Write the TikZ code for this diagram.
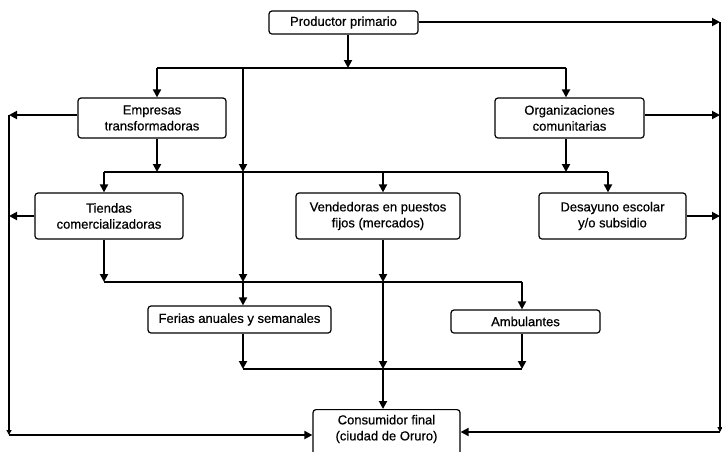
\documentclass[tikz,border=0pt]{standalone}
\usepackage{fontspec}
\setmainfont{Liberation Sans}[FakeBold=0.6]
\usetikzlibrary{arrows.meta}
\begin{document}
\begin{tikzpicture}[x=1pt,y=-1pt,
  box/.style={draw, rounded corners=3pt, line width=1.2pt, align=center, inner sep=0pt, font=\fontsize{13}{16}\selectfont},
  lbl/.style={align=center, inner sep=0pt, font=\fontsize{13}{16}\selectfont},
  thk/.style={line width=1.9pt},
  thn/.style={line width=1.1pt},
  arr/.style={thk,-{Triangle[length=8pt,width=8pt]}},
  sarr/.style={thk,-{Triangle[length=5pt,width=5pt]}},
]
\useasboundingbox (0,0) rectangle (722,451);

% nodes
\node[box,minimum width=149pt,minimum height=23pt] (prod) at (343.5,22.5) {Productor primario};
\node[box,minimum width=148pt,minimum height=40pt] (emp) at (152,118) {Empresas\\transformadoras};
\node[box,minimum width=149pt,minimum height=40pt] (org) at (569.5,118) {Organizaciones\\comunitarias};
\node[box,minimum width=148pt,minimum height=46pt] (tie) at (109,216) {Tiendas\\comercializadoras};
\node[box,minimum width=164pt,minimum height=46pt] (ven) at (378,216) {Vendedoras en puestos\\fijos (mercados)};
\node[box,minimum width=147pt,minimum height=46pt] (des) at (612.5,216) {Desayuno escolar\\y/o subsidio};
\node[box,minimum width=183pt,minimum height=27pt] (fer) at (239.5,319.5) {Ferias anuales y semanales};
\node[box,minimum width=149pt,minimum height=23pt] (amb) at (525.5,321.5) {Ambulantes};
\node[box,minimum width=147pt,minimum height=52pt,anchor=north] (cons) at (386.5,409) {};
\node[lbl] (constxt) at (386.5,429) {Consumidor final\\(ciudad de Oruro)};

% coordinates
\coordinate (pd) at (348,68);
\coordinate (b1L) at (157,68);
\coordinate (b1R) at (566,68);
\coordinate (fx1) at (243,68);
\coordinate (b2L) at (104,172);
\coordinate (b2R) at (608,172);
\coordinate (b2E) at (157,172);
\coordinate (b2O) at (566,172);
\coordinate (b2V) at (383,172);
\coordinate (b2F) at (243,172);
\coordinate (b3L) at (104,282);
\coordinate (b3R) at (522,282);
\coordinate (b3F) at (243,282);
\coordinate (b3V) at (383,282);
\coordinate (b4L) at (243,369);
\coordinate (b4R) at (522,369);
\coordinate (b4V) at (383,369);
\coordinate (lt) at (9,115);
\coordinate (lm) at (9,216);
\coordinate (lb) at (9,435);
\coordinate (rt) at (720,22);
\coordinate (ro) at (720,115);
\coordinate (rd) at (720,216);
\coordinate (rb) at (720,432);

% bus lines
\draw[thn] (b1L) -- (b1R);
\draw[thn] (b2L) -- (b2R);
\draw[thn] (b3L) -- (b3R);
\draw[thn] (b4L) -- (b4R);

% level 1
\draw[arr] (prod.south -| pd) -- (pd);
\draw[arr] (b1L) -- (emp.north -| b1L);
\draw[arr] (b1R) -- (org.north -| b1R);

% level 2
\draw[arr] (emp.south -| b2E) -- (b2E);
\draw[arr] (org.south -| b2O) -- (b2O);
\draw[arr] (b2L) -- (tie.north -| b2L);
\draw[arr] (b2V) -- (ven.north -| b2V);
\draw[arr] (b2R) -- (des.north -| b2R);
\draw[arr] (fx1) -- (b2F);

% level 3
\draw[arr] (tie.south -| b3L) -- (b3L);
\draw[arr] (b2F) -- (b3F);
\draw[arr] (b3F) -- (fer.north -| b3F);
\draw[arr] (b3R) -- (amb.north -| b3R);
\draw[arr] (ven.south -| b3V) -- (b3V);

% level 4
\draw[arr] (fer.south -| b4L) -- (b4L);
\draw[arr] (amb.south -| b4R) -- (b4R);
\draw[arr] (b3V) -- (b4V);
\draw[arr] (b4V) -- (cons.north -| b4V);

% left side
\draw[arr] (emp.west |- lt) -- (lt);
\draw[arr] (tie.west |- lm) -- (lm);
\draw[sarr] (lt) -- (lb);
\draw[arr] (lb) -- (cons.west |- lb);

% right side
\draw[arr] (prod.east |- rt) -- (rt);
\draw[arr] (org.east |- ro) -- (ro);
\draw[arr] (des.east |- rd) -- (rd);
\draw[sarr] (rt) -- (rb);
\draw[arr] (rb) -- (cons.east |- rb);
\end{tikzpicture}
\end{document}
